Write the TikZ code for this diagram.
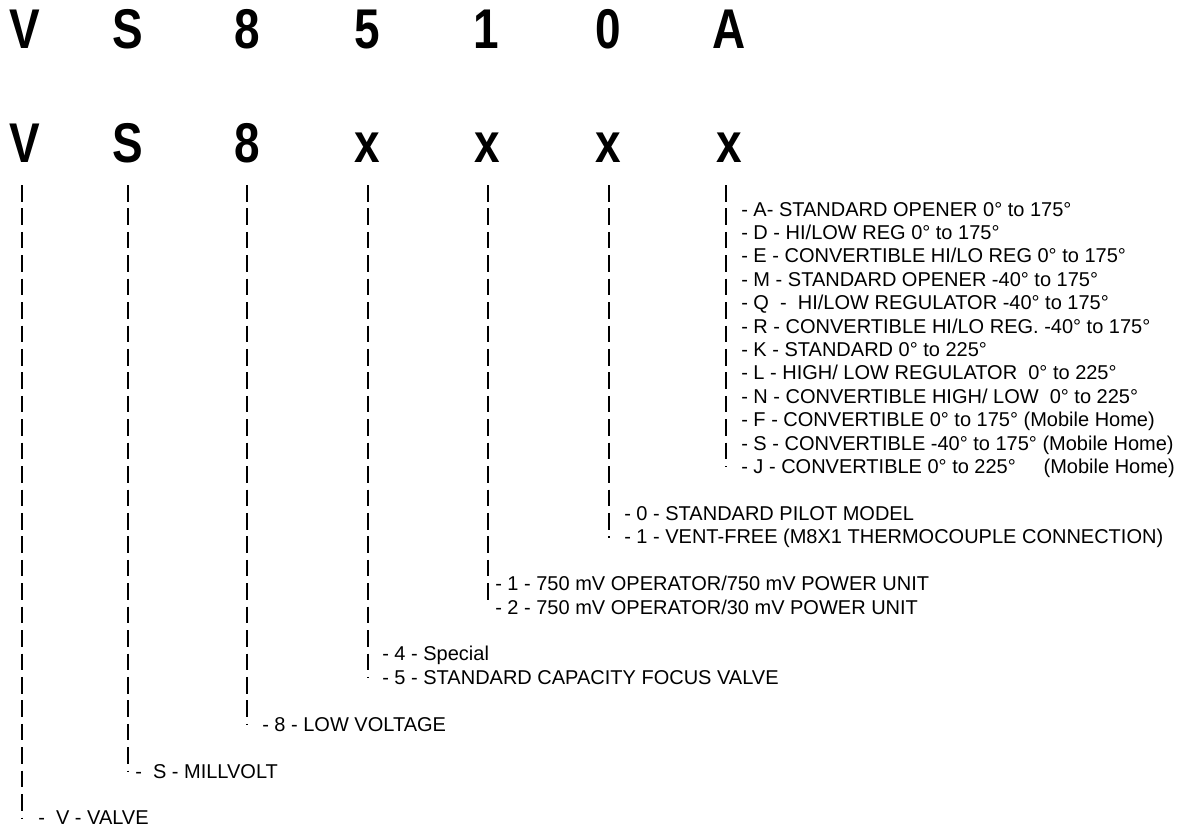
\documentclass[tikz,border=0pt]{standalone}
\usepackage{fontspec}
\setmainfont{Liberation Sans}
\usetikzlibrary{positioning}
\newcommand{\cond}[1]{\scalebox{0.82}[1]{#1}}

\begin{document}
\begin{tikzpicture}[
  x=0.75pt, y=-0.75pt,
  big/.style={anchor=base, inner sep=0pt,
    font=\fontsize{42}{42}\selectfont\bfseries},
  lbl/.style={anchor=base west, inner sep=0pt,
    font=\fontsize{15}{18}\selectfont},
  guide/.style={line width=1.1pt, dash pattern=on 12.4pt off 5.17pt}
]
  \useasboundingbox (0,0) rectangle (1178,829);

  % model number
  \node[big] (tV) at (25,48) {\cond{V}};
  \node[big] (tS) at (128,48) {\cond{S}};
  \node[big] (t8) at (247,48) {\cond{8}};
  \node[big] (t5) at (367,48) {\cond{5}};
  \node[big] (t1) at (486,48) {\cond{1}};
  \node[big] (t0) at (608,48) {\cond{0}};
  \node[big] (tA) at (729,48) {\cond{A}};

  % code positions
  \node[big] (cV) at (25,162) {\cond{V}};
  \node[big] (cS) at (128,162) {\cond{S}};
  \node[big] (c8) at (247,162) {\cond{8}};
  \node[big] (c5) at (367,162) {\cond{x}};
  \node[big] (c1) at (487,162) {\cond{x}};
  \node[big] (c0) at (608,162) {\cond{x}};
  \node[big] (cA) at (729,162) {\cond{x}};

  % guide lines
  \coordinate (sV) at (22,185);  \coordinate (eV) at (22,819);
  \coordinate (sS) at (128,185); \coordinate (eS) at (128,772);
  \coordinate (s8) at (247,185); \coordinate (e8) at (247,725);
  \coordinate (s5) at (368,185); \coordinate (e5) at (368,678);
  \coordinate (s1) at (488,185); \coordinate (e1) at (488,600);
  \coordinate (s0) at (609,185); \coordinate (e0) at (609,538);
  \coordinate (sA) at (726,185); \coordinate (eA) at (726,467);
  \draw[guide] (sV) -- (eV);
  \draw[guide] (sS) -- (eS);
  \draw[guide] (s8) -- (e8);
  \draw[guide] (s5) -- (e5);
  \draw[guide] (s1) -- (e1);
  \draw[guide] (s0) -- (e0);
  \draw[guide] (sA) -- (eA);

  % last position
  \node[lbl] (optA) at (741,216.00) {- A- STANDARD OPENER 0° to 175°};
  \node[lbl] (optD) at (741,239.42) {- D - HI/LOW REG 0° to 175°};
  \node[lbl] (optE) at (741,262.84) {- E - CONVERTIBLE HI/LO REG 0° to 175°};
  \node[lbl] (optM) at (741,286.26) {- M - STANDARD OPENER -40° to 175°};
  \node[lbl] (optQ) at (741,309.68) {- Q \ - \ HI/LOW REGULATOR -40° to 175°};
  \node[lbl] (optR) at (741,333.10) {- R - CONVERTIBLE HI/LO REG. -40° to 175°};
  \node[lbl] (optK) at (741,356.52) {- K - STANDARD 0° to 225°};
  \node[lbl] (optL) at (741,379.94) {- L - HIGH/ LOW REGULATOR \ 0° to 225°};
  \node[lbl] (optN) at (741,403.36) {- N - CONVERTIBLE HIGH/ LOW \ 0° to 225°};
  \node[lbl] (optF) at (741,426.78) {- F - CONVERTIBLE 0° to 175° (Mobile Home)};
  \node[lbl] (optS) at (741,450.20) {- S - CONVERTIBLE -40° to 175° (Mobile Home)};
  \node[lbl] (optJ) at (741,473.62) {- J - CONVERTIBLE 0° to 225° \ \ \ \ (Mobile Home)};

  % pilot
  \node[lbl] (opt0a) at (624,520.46) {- 0 - STANDARD PILOT MODEL};
  \node[lbl] (opt0b) at (624,543.88) {- 1 - VENT-FREE (M8X1 THERMOCOUPLE CONNECTION)};

  % operator
  \node[lbl] (opt1a) at (495,590.72) {- 1 - 750 mV OPERATOR/750 mV POWER UNIT};
  \node[lbl] (opt1b) at (495,614.14) {- 2 - 750 mV OPERATOR/30 mV POWER UNIT};

  % capacity
  \node[lbl] (opt5a) at (382,660.98) {- 4 - Special};
  \node[lbl] (opt5b) at (382,684.40) {- 5 - STANDARD CAPACITY FOCUS VALVE};

  \node[lbl] (opt8) at (262,731.24) {- 8 - LOW VOLTAGE};
  \node[lbl] (optSm) at (135,778.08) {- \ S - MILLVOLT};
  \node[lbl] (optVv) at (38,824.92) {- \ V - VALVE};
\end{tikzpicture}
\end{document}
